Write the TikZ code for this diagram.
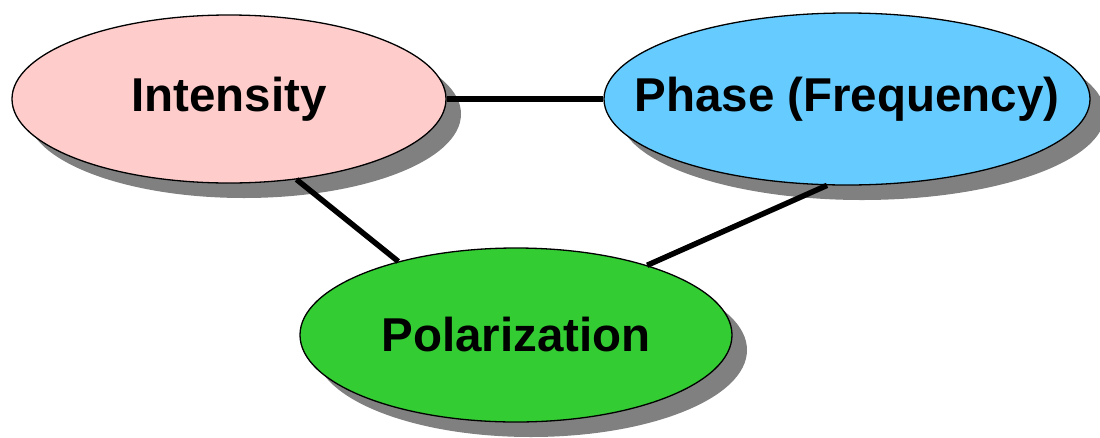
\documentclass[tikz,border=0pt]{standalone}
\usepackage{fontspec}
\setmainfont{Liberation Sans}
\usetikzlibrary{shapes.geometric,shadows}
\definecolor{rose}{RGB}{255,204,204}
\definecolor{ciel}{RGB}{102,204,255}
\definecolor{herbe}{RGB}{51,204,51}
\newcommand{\gros}[0]{\fontsize{47.5}{57}\selectfont\bfseries}
\newcommand{\bulle}[6]{\node[bulle,fill=#4,minimum width=#5,minimum height=#6] (#1) at (#2) {\makebox[0pt]{#3}}}
\newcommand{\lien}[2]{\draw[epais] (#1) -- (#2)}
\tikzset{bulle/.style={ellipse,draw=black,line width=1.3pt,inner sep=0pt,font=\gros,
	drop shadow={shadow xshift=15pt,shadow yshift=-15pt,fill=black!50,opacity=1}},
	epais/.style={line width=5.5pt}}

\begin{document}
\begin{tikzpicture}[x=1pt,y=-1pt]
	\useasboundingbox (0,0) rectangle (1100,437);
	\bulle{int}{229,99}{Intensity}{rose}{434pt}{168pt};
	\bulle{ph}{847,99}{Phase (Frequency)}{ciel}{486pt}{172pt};
	\bulle{pol}{516,335}{Polarization}{herbe}{432pt}{174pt};
	\lien{int.east}{ph.west};
	\lien{int.-50}{pol.148};
	\lien{ph.-103}{pol.28};
\end{tikzpicture}
\end{document}
